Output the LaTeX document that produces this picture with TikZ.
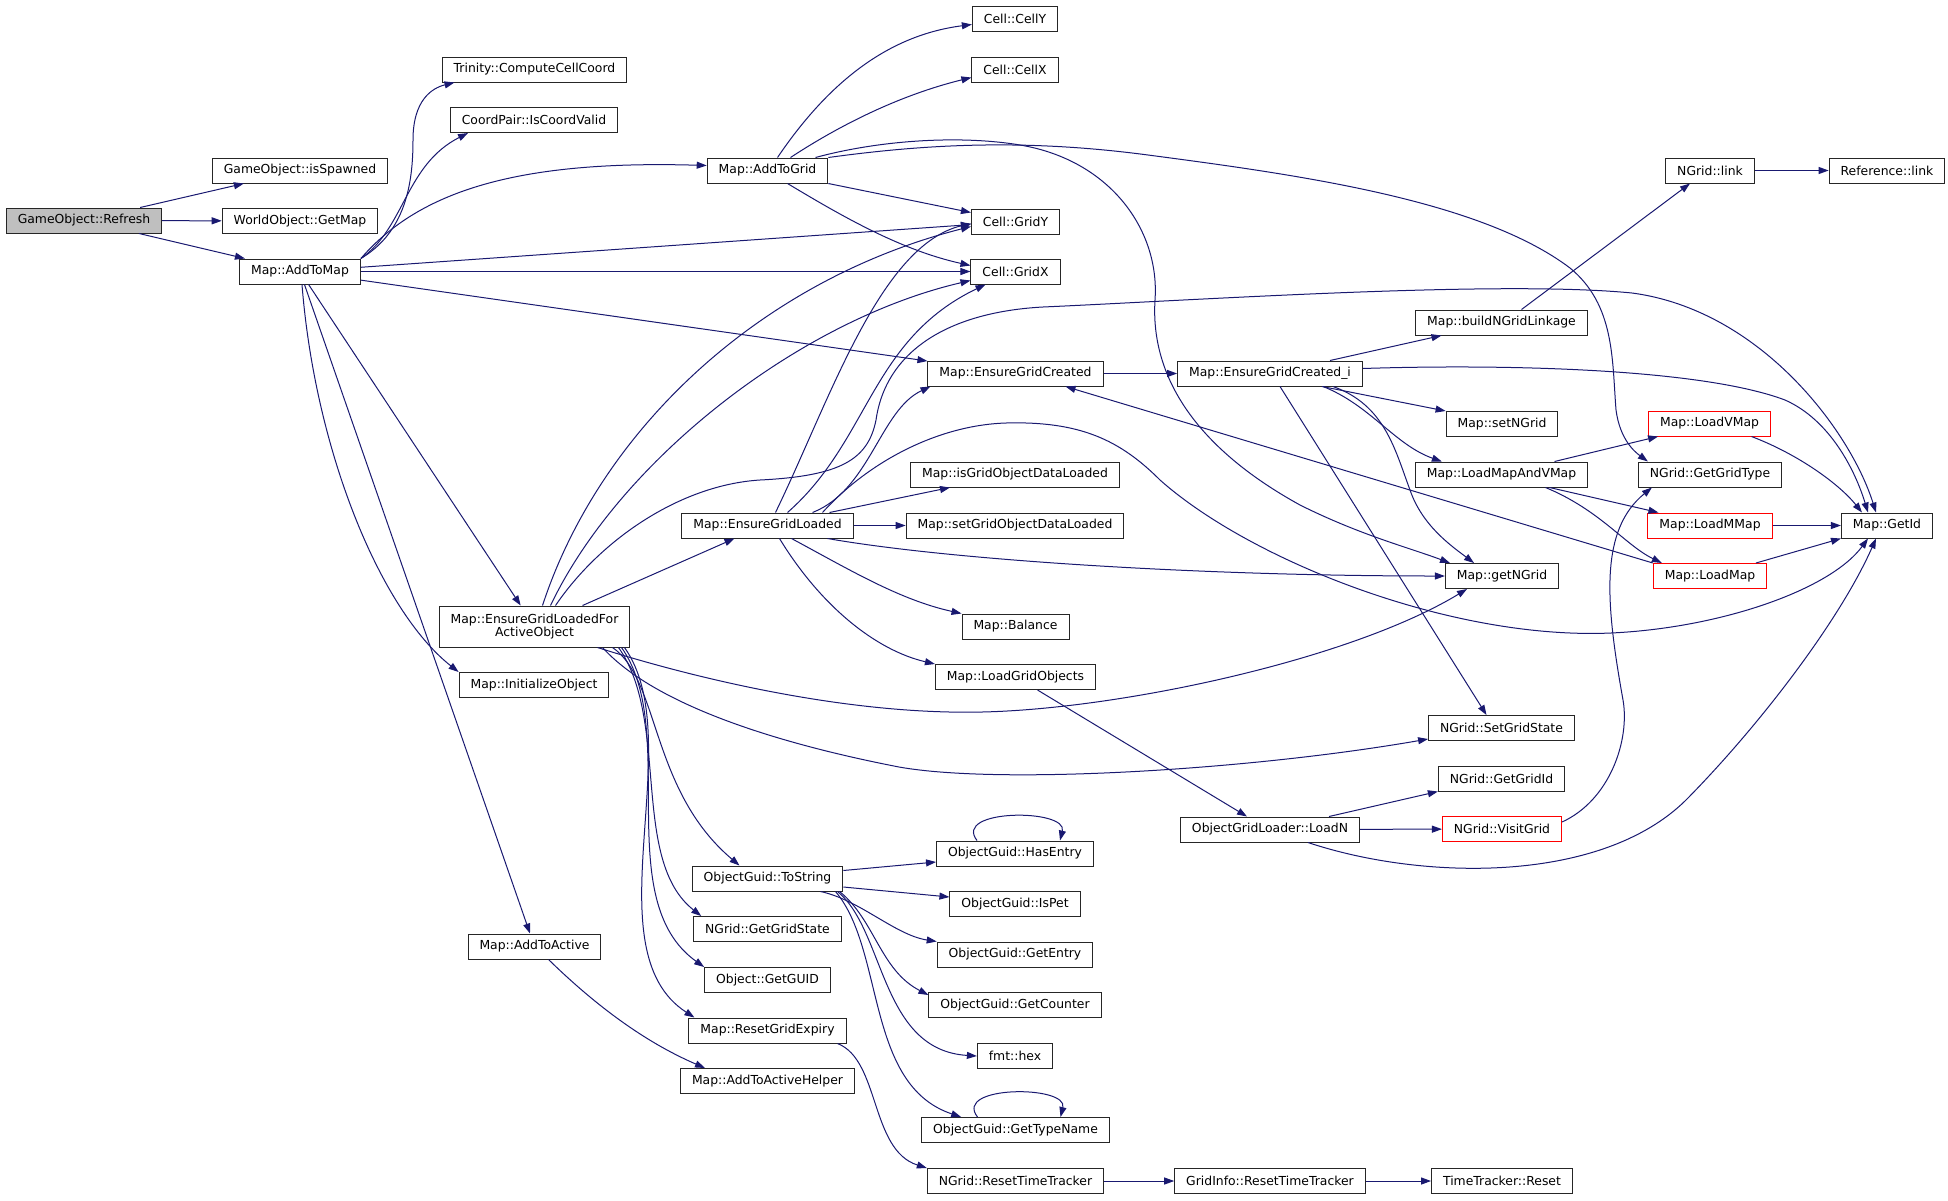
\documentclass[tikz,border=0pt]{standalone}
\usepackage{fontspec}
\setmainfont{DejaVu Sans}
\usetikzlibrary{arrows.meta}
\definecolor{edgeblue}{RGB}{25,25,112}
\definecolor{boxgray}{RGB}{191,191,191}
\begin{document}
\begin{tikzpicture}[x=1pt,y=-1pt]
\tikzstyle{fn}=[rectangle,draw=black!85,line width=1pt,fill=white,minimum height=25pt,inner xsep=11.5pt,inner ysep=2pt,font=\fontsize{12.4}{13.7}\selectfont]
\tikzstyle{trunc}=[fn,draw=red]
\tikzstyle{root}=[fn,fill=boxgray]
\tikzstyle{call}=[draw=edgeblue,line width=1pt,-{Triangle[length=10pt,width=7pt]}]
\useasboundingbox (0,0) rectangle (1948,1200);
% column 0-2
\node[root] (refresh) at (84,220.5) {GameObject::Refresh};
\node[fn] (isspawned) at (300,170.5) {GameObject::isSpawned};
\node[fn] (getmap) at (300,221) {WorldObject::GetMap};
\node[fn] (addtomap) at (300,271.5) {Map::AddToMap};
\node[fn] (computecell) at (534.5,69.5) {Trinity::ComputeCellCoord};
\node[fn] (coordvalid) at (534,120) {CoordPair::IsCoordValid};
\node[fn,align=center,minimum height=41pt] (eglfao) at (534.5,626.5) {Map::EnsureGridLoadedFor\\ActiveObject};
\node[fn] (initobj) at (534,685) {Map::InitializeObject};
\node[fn] (addtoactive) at (534.5,946.5) {Map::AddToActive};
% column 3
\node[fn] (addtogrid) at (767.5,170.5) {Map::AddToGrid};
\node[fn] (egl) at (767.5,525.5) {Map::EnsureGridLoaded};
\node[fn] (tostring) at (767.5,878.5) {ObjectGuid::ToString};
\node[fn] (getgridstate) at (767.5,929) {NGrid::GetGridState};
\node[fn] (getguid) at (767.5,980) {Object::GetGUID};
\node[fn] (resetexpiry) at (767.5,1030.5) {Map::ResetGridExpiry};
\node[fn] (activehelper) at (767.5,1081) {Map::AddToActiveHelper};
% column 4
\node[fn] (celly) at (1015,18.5) {Cell::CellY};
\node[fn] (cellx) at (1015,69.5) {Cell::CellX};
\node[fn] (gridy) at (1015.5,221.5) {Cell::GridY};
\node[fn] (gridx) at (1015.5,271.5) {Cell::GridX};
\node[fn] (egc) at (1015.5,373.5) {Map::EnsureGridCreated};
\node[fn] (isloaded) at (1015,474.5) {Map::isGridObjectDataLoaded};
\node[fn] (setloaded) at (1015,525.5) {Map::setGridObjectDataLoaded};
\node[fn] (balance) at (1015.5,626.5) {Map::Balance};
\node[fn] (loadobjects) at (1015.5,677) {Map::LoadGridObjects};
\node[fn] (hasentry) at (1015,853.5) {ObjectGuid::HasEntry};
\node[fn] (ispet) at (1015,904) {ObjectGuid::IsPet};
\node[fn] (getentry) at (1015,954.5) {ObjectGuid::GetEntry};
\node[fn] (getcounter) at (1015,1005) {ObjectGuid::GetCounter};
\node[fn] (fmthex) at (1015,1056) {fmt::hex};
\node[fn] (typename) at (1015.5,1130) {ObjectGuid::GetTypeName};
\node[fn] (nresettt) at (1015.5,1181) {NGrid::ResetTimeTracker};
% column 5-8
\node[fn] (egci) at (1270,373.5) {Map::EnsureGridCreated\_i};
\node[fn] (loadn) at (1270,829.5) {ObjectGridLoader::LoadN};
\node[fn] (gresettt) at (1270,1181) {GridInfo::ResetTimeTracker};
\node[fn] (linkage) at (1501.5,322.5) {Map::buildNGridLinkage};
\node[fn] (setngrid) at (1502,424) {Map::setNGrid};
\node[fn] (loadmapvmap) at (1501.5,474.5) {Map::LoadMapAndVMap};
\node[fn] (getngrid) at (1502,576) {Map::getNGrid};
\node[fn] (setgridstate) at (1501.5,728) {NGrid::SetGridState};
\node[fn] (getgridid) at (1501.5,778.5) {NGrid::GetGridId};
\node[trunc] (visitgrid) at (1502,829) {NGrid::VisitGrid};
\node[fn] (ttreset) at (1502,1181) {TimeTracker::Reset};
\node[fn] (ngridlink) at (1710,170.5) {NGrid::link};
\node[trunc] (loadvmap) at (1709.5,423.5) {Map::LoadVMap};
\node[fn] (gridtype) at (1710,474.5) {NGrid::GetGridType};
\node[trunc] (loadmmap) at (1710,525.5) {Map::LoadMMap};
\node[trunc] (loadmap) at (1710,576) {Map::LoadMap};
\node[fn] (reflink) at (1887,170.5) {Reference::link};
\node[fn] (getid) at (1887,525.5) {Map::GetId};

% GameObject::Refresh
\draw[call] (refresh) -- (isspawned);
\draw[call] (refresh) -- (getmap);
\draw[call] (refresh) -- (addtomap);
% Map::AddToMap
\draw[call] (addtomap.north east) .. controls (405,232) and (413,185) .. (413,140) .. controls (413,100) and (432,88) .. ([xshift=-80pt]computecell.south);
\draw[call] (addtomap.north east) .. controls (405,228) and (405,165) .. ([xshift=-66pt]coordvalid.south);
\draw[call] (addtomap.north east) .. controls (420,190) and (520,160) .. ([yshift=5pt]addtogrid.west);
\draw[call] (addtomap) -- (gridy);
\draw[call] (addtomap) -- (gridx);
\draw[call] (addtomap) -- (egc);
\draw[call] (addtomap) -- (eglfao);
\draw[call] ([xshift=2pt]addtomap.south) .. controls (315,450) and (380,610) .. (initobj.north west);
\draw[call] (addtomap) -- (addtoactive);
% Map::AddToGrid
\draw[call] ([xshift=10pt]addtogrid.north) .. controls (830,80) and (890,35) .. ([yshift=-6pt]celly.west);
\draw[call] ([xshift=23pt]addtogrid.north) .. controls (840,125) and (900,95) .. ([yshift=-8pt]cellx.west);
\draw[call] (addtogrid.south east) -- ([yshift=-4pt]gridy.north west);
\draw[call] ([xshift=20pt]addtogrid.south) .. controls (840,215) and (900,250) .. ([yshift=6pt]gridx.west);
\draw[call] ([xshift=48pt]addtogrid.north) .. controls (880,140) and (960,135) .. (1020,145) .. controls (1110,160) and (1160,230) .. (1155,300) .. controls (1150,380) and (1200,450) .. (1300,505) .. controls (1360,535) and (1410,548) .. ([xshift=-52pt]getngrid.north);
\draw[call] (addtogrid.north east) .. controls (920,145) and (1020,138) .. (1148,155) .. controls (1300,175) and (1480,200) .. (1570,268) .. controls (1615,305) and (1612,360) .. (1616,410) .. controls (1620,440) and (1635,452) .. ([xshift=10pt]gridtype.north west);
% Map::EnsureGridLoadedForActiveObject
\draw[call] ([xshift=8pt]eglfao.north) .. controls (600,430) and (760,280) .. ([yshift=-5pt]gridy.west);
\draw[call] ([xshift=16pt]eglfao.north) .. controls (620,460) and (800,320) .. ([yshift=-9pt]gridx.west);
\draw[call] ([xshift=48pt]eglfao.north) -- ([xshift=-33pt]egl.south);
\draw[call] ([xshift=21pt]eglfao.north) .. controls (600,540) and (680,485) .. (760,480) .. controls (840,476) and (868,460) .. (876,420) .. controls (886,350) and (950,312) .. (1043,307) .. controls (1200,300) and (1500,280) .. (1632,293) .. controls (1760,310) and (1850,430) .. ([xshift=-11pt]getid.north);
\draw[call] ([xshift=63pt]eglfao.south) .. controls (700,680) and (850,715) .. (982,712) .. controls (1120,709) and (1350,660) .. ([xshift=-35pt]getngrid.south);
\draw[call] ([xshift=68pt]eglfao.south) .. controls (650,700) and (760,740) .. (899,767) .. controls (1000,785) and (1250,770) .. ([yshift=2pt]setgridstate.south west);
\draw[call] ([xshift=78pt]eglfao.south) .. controls (660,680) and (650,790) .. ([xshift=-28pt]tostring.north);
\draw[call] ([xshift=84pt]eglfao.south) .. controls (670,720) and (630,860) .. ([xshift=8pt]getgridstate.north west);
\draw[call] ([xshift=87pt]eglfao.south) .. controls (680,730) and (610,900) .. (getguid.north west);
\draw[call] ([xshift=90pt]eglfao.south) .. controls (690,740) and (590,950) .. ([xshift=6pt]resetexpiry.north west);
% Map::EnsureGridLoaded
\draw[call] ([xshift=45pt]egl.north) .. controls (870,490) and (880,410) .. ([xshift=-85pt]egc.south);
\draw[call] ([xshift=8pt]egl.north) .. controls (830,400) and (880,245) .. ([yshift=-2pt]gridy.west);
\draw[call] ([xshift=20pt]egl.north) .. controls (870,440) and (870,340) .. ([xshift=-30pt]gridx.south);
\draw[call] ([xshift=62pt]egl.north) -- ([xshift=-65pt]isloaded.south);
\draw[call] (egl) -- (setloaded);
\draw[call] ([xshift=60pt]egl.south) .. controls (950,560) and (1200,576) .. (getngrid.west);
\draw[call] ([xshift=24pt]egl.south) .. controls (850,570) and (900,600) .. (balance.north west);
\draw[call] ([xshift=12pt]egl.south) .. controls (820,605) and (875,650) .. (loadobjects.north west);
\draw[call] ([xshift=55pt]egl.north) .. controls (870,460) and (940,425) .. (1006,423) .. controls (1080,421) and (1120,440) .. (1160,480) .. controls (1250,560) and (1450,640) .. (1611,633) .. controls (1720,628) and (1830,590) .. ([xshift=-19pt]getid.south);
% Map::EnsureGridCreated and Map::EnsureGridCreated_i
\draw[call] (egc) -- (egci);
\draw[call] ([xshift=60pt]egci.north) -- ([xshift=-60pt]linkage.south);
\draw[call] ([yshift=5pt]egci.east) .. controls (1500,364) and (1700,368) .. (1785,400) .. controls (1830,420) and (1855,470) .. ([xshift=-19pt]getid.north);
\draw[call] ([xshift=52pt]egci.south) -- (setngrid.north west);
\draw[call] ([xshift=53pt]egci.south) .. controls (1370,405) and (1395,445) .. ([xshift=27pt]loadmapvmap.north west);
\draw[call] ([xshift=63pt]egci.south) .. controls (1385,405) and (1395,450) .. (1410,490) .. controls (1422,525) and (1450,545) .. ([xshift=-28pt]getngrid.north);
\draw[call] ([xshift=10pt]egci.south) -- ([xshift=-15pt]setgridstate.north);
\draw[call] (loadmap.north west) -- ([xshift=50pt]egc.south);
% linkage
\draw[call] ([xshift=20pt]linkage.north) -- ([xshift=-20pt]ngridlink.south);
\draw[call] (ngridlink) -- (reflink);
% Map::LoadMapAndVMap
\draw[call] ([xshift=53pt]loadmapvmap.north) -- ([xshift=10pt]loadvmap.south west);
\draw[call] ([xshift=48pt]loadmapvmap.south) -- ([xshift=11pt]loadmmap.north west);
\draw[call] ([xshift=44pt]loadmapvmap.south) .. controls (1600,510) and (1625,545) .. ([xshift=9pt]loadmap.north west);
\draw[call] ([xshift=42pt]loadvmap.south) .. controls (1800,455) and (1840,485) .. ([xshift=-25pt]getid.north);
\draw[call] (loadmmap) -- (getid);
\draw[call] ([xshift=46pt]loadmap.north) -- (getid.south west);
% Map::LoadGridObjects
\draw[call] ([xshift=22pt]loadobjects.south) -- ([xshift=-23pt]loadn.north);
\draw[call] ([xshift=59pt]loadn.north) -- (getgridid.south west);
\draw[call] (loadn) -- (visitgrid);
\draw[call] ([xshift=38pt]loadn.south) .. controls (1420,880) and (1600,885) .. (1686,800) .. controls (1760,725) and (1840,620) .. ([xshift=-11pt]getid.south);
\draw[call] ([yshift=7pt]visitgrid.east) .. controls (1610,800) and (1630,740) .. (1623,700) .. controls (1605,600) and (1600,530) .. ([xshift=14pt]gridtype.south west);
% ObjectGuid::ToString
\draw[call] ([yshift=8pt]tostring.east) -- ([yshift=-8.5pt]hasentry.west);
\draw[call] ([yshift=-8.5pt]tostring.east) -- ([yshift=7pt]ispet.west);
\draw[call] ([xshift=53pt]tostring.south) .. controls (860,900) and (895,935) .. (getentry.north west);
\draw[call] ([xshift=72pt]tostring.south) .. controls (875,920) and (880,970) .. ([yshift=-3pt]getcounter.north west);
\draw[call] ([xshift=70pt]tostring.south) .. controls (885,930) and (880,1050) .. (fmthex.west);
\draw[call] ([xshift=68pt]tostring.south) .. controls (885,950) and (865,1085) .. ([xshift=40pt]typename.north west);
\draw[call] ([xshift=-38pt]hasentry.north) .. controls +(-25,-32) and +(8,-32) .. ([xshift=45pt]hasentry.north);
\draw[call] ([xshift=-38pt]typename.north) .. controls +(-25,-32) and +(8,-32) .. ([xshift=45pt]typename.north);
% expiry and active
\draw[call] ([xshift=70pt]resetexpiry.south) .. controls (880,1060) and (870,1150) .. (nresettt.north west);
\draw[call] (nresettt) -- (gresettt);
\draw[call] (gresettt) -- (ttreset);
\draw[call] ([xshift=14pt]addtoactive.south) .. controls (590,1000) and (640,1040) .. ([xshift=25pt]activehelper.north west);
\end{tikzpicture}
\end{document}
